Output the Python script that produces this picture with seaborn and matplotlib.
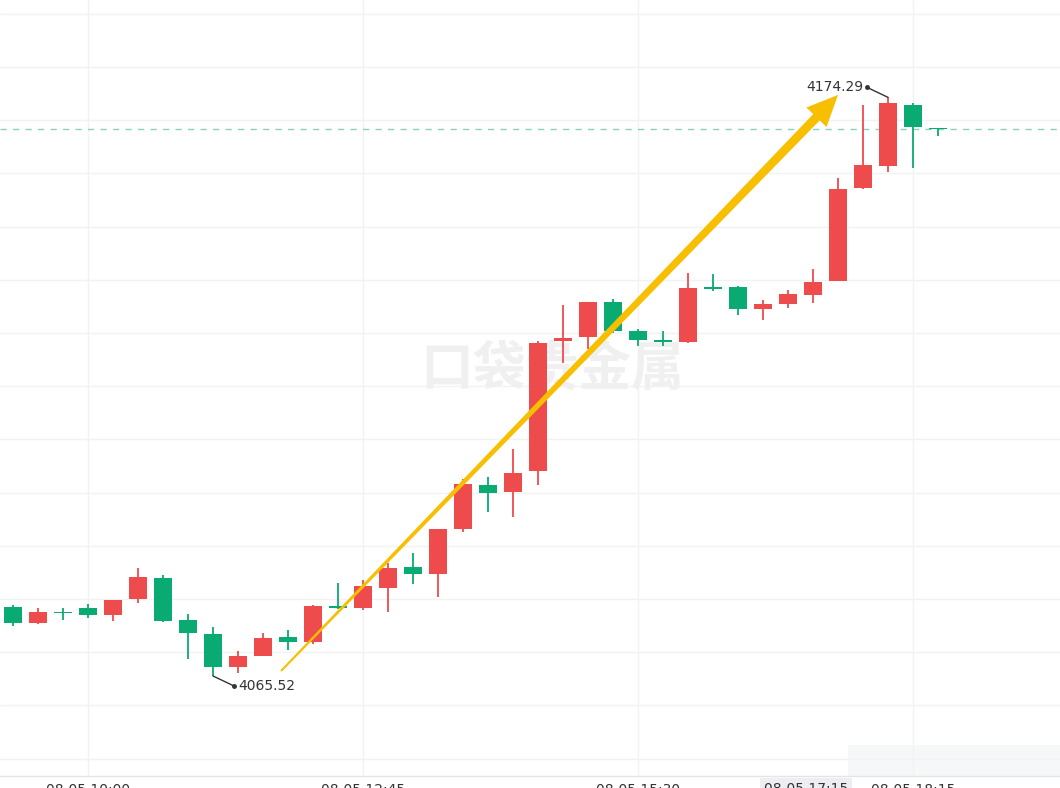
import numpy as np
import pandas as pd
import matplotlib.pyplot as plt
import seaborn as sns
from matplotlib.patches import Polygon, Rectangle
from matplotlib.transforms import blended_transform_factory, offset_copy

# 15-minute candles, 08-05
times = pd.date_range("2024-08-05 09:15", periods=38, freq="15min").strftime("%m-%d %H:%M").tolist()

opens = [4078.55, 4075.48, 4077.61, 4078.30, 4076.93, 4079.94, 4084.00, 4075.99, 4073.36, 4067.27,
         4069.28, 4072.85, 4071.91, 4078.68, 4078.36, 4082.01, 4085.95, 4084.64, 4093.10, 4101.42,
         4100.16, 4104.11, 4128.55, 4129.19, 4135.76, 4130.37, 4128.55, 4128.30, 4138.58, 4138.70,
         4134.45, 4135.50, 4137.19, 4139.83, 4157.25, 4161.44, 4172.85, 4168.53]
highs = [4078.87, 4078.25, 4078.30, 4079.00, 4079.85, 4085.88, 4084.51, 4077.17, 4074.79, 4070.22,
         4073.66, 4074.17, 4078.81, 4083.06, 4083.57, 4086.82, 4088.58, 4093.15, 4102.49, 4102.87,
         4108.13, 4128.55, 4135.26, 4135.85, 4136.33, 4130.75, 4130.37, 4141.33, 4141.03, 4138.80,
         4136.20, 4138.08, 4141.97, 4159.19, 4172.85, 4174.29, 4173.29, 4168.60]
lows = [4074.92, 4075.30, 4076.05, 4076.48, 4075.80, 4079.30, 4075.75, 4068.77, 4065.52, 4066.03,
        4069.20, 4070.41, 4071.54, 4078.20, 4077.93, 4077.61, 4082.81, 4080.31, 4092.64, 4096.40,
        4095.46, 4101.42, 4124.41, 4126.93, 4129.94, 4127.55, 4127.55, 4128.20, 4137.89, 4133.38,
        4132.44, 4134.75, 4135.58, 4139.70, 4157.15, 4160.20, 4161.07, 4167.03]
closes = [4075.54, 4077.49, 4077.36, 4077.04, 4079.81, 4084.07, 4075.80, 4073.55, 4067.27, 4069.28,
          4072.61, 4071.91, 4078.68, 4078.30, 4082.49, 4085.88, 4084.69, 4093.10, 4101.55, 4099.86,
          4103.62, 4128.17, 4129.11, 4135.76, 4130.43, 4128.62, 4128.36, 4138.51, 4138.32, 4134.56,
          4135.44, 4137.27, 4139.52, 4157.06, 4161.52, 4173.17, 4168.77, 4168.34]

RED = "#EE4B4C"
GREEN = "#0AAB72"
ARROW = "#F8BE00"

df = pd.DataFrame({"time": times, "open": opens, "high": highs, "low": lows, "close": closes})
df["x"] = np.arange(len(df))
df["color"] = np.where(df["close"] >= df["open"], RED, GREEN)

sns.set_theme(style="white")
plt.rcParams["font.family"] = ["DejaVu Sans", "Noto Sans CJK SC"]

fig = plt.figure(figsize=(10.6, 7.88), dpi=100)
ax = fig.add_axes([0, 12 / 788, 1, 776 / 788])
ax.set_xlim(-0.52, 41.88)
ax.set_ylim(4046.72, 4192.59)

# grid
ax.set_yticks(np.arange(4050, 4191, 10))
ax.set_yticklabels([])
ax.set_xticks([3, 14, 25, 36])
ax.set_xticklabels([df["time"][i] for i in [3, 14, 25, 36]])
ax.grid(True, color="#f2f2f2", lw=1)
ax.tick_params(axis="x", length=0, pad=5, labelsize=10, labelcolor="#333333")
ax.tick_params(axis="y", length=0)
for s in ["top", "left", "right"]:
    ax.spines[s].set_visible(False)
ax.spines["bottom"].set_color("#e4e4e4")
ax.spines["bottom"].set_linewidth(1)

# faint overlay at bottom right, under everything
ax.add_patch(Rectangle((848 / 1060, 33 / 776 * -0 + 0), 212 / 1060, 31 / 776, transform=ax.transAxes,
                       facecolor="#f6f7f9", edgecolor="none", zorder=0.5))

# watermark
ax.text(552 / 1060, 1 - 370 / 788, "口袋贵金属", ha="center", va="center", fontsize=38,
        fontweight="bold", color="#f0f0f0", family=["Noto Sans CJK SC"], zorder=1,
        transform=fig.transFigure)

# candles
ax.vlines(df["x"], df["low"], df["high"], colors=df["color"], lw=1.3, zorder=3)
body_low = np.minimum(df["open"], df["close"])
body_h = np.maximum((df["close"] - df["open"]).abs(), 0.25)
ax.bar(df["x"], body_h, bottom=body_low, width=0.74, color=df["color"], linewidth=0, zorder=3)

# last price line
ax.axhline(df["close"].iloc[-1], color="#8ad2ba", lw=1, ls=(0, (4.5, 4.5)), zorder=2)

# high / low labels
hi = int(df["high"].idxmax())
lo = int(df["low"].idxmin())
for idx, val, dx, dy, ha in [(hi, df["high"][hi], -21, 10, "right"), (lo, df["low"][lo], 21, -10, "left")]:
    ax.annotate("", xy=(idx, val), xytext=(dx, dy), textcoords="offset pixels",
                arrowprops=dict(arrowstyle="-", color="#333333", lw=1, shrinkA=0, shrinkB=0), zorder=6)
    ax.plot([idx], [val], "o", ms=2.5, color="#333333",
            transform=offset_copy(ax.transData, fig, x=dx, y=dy, units="dots"), zorder=6)
    tx = dx - 4 if ha == "right" else dx + 4
    ax.text(idx, val, f"{val:.2f}", ha=ha, va="center", fontsize=10, color="#333333",
            transform=offset_copy(ax.transData, fig, x=tx, y=dy, units="dots"), zorder=6)

# tapered trend arrow from near the low to near the high
p0 = ax.transData.transform((lo + 2.72, df["low"][lo] + 0.94))
p1 = ax.transData.transform((hi - 2.0, df["high"][hi] + 0.45))
u = (p1 - p0) / np.linalg.norm(p1 - p0)
n = np.array([-u[1], u[0]])
neck = p1 - u * 31
pts = np.array([p0 + n * 1.0, neck + n * 4.5, neck + n * 14, p1,
                neck - n * 14, neck - n * 4.5, p0 - n * 1.0])
ax.add_patch(Polygon(ax.transData.inverted().transform(pts), closed=True,
                     facecolor=ARROW, edgecolor="none", zorder=5))

# crosshair time label
trans = offset_copy(blended_transform_factory(ax.transData, ax.transAxes), fig, x=0, y=-6, units="dots")
ax.text(31.72, 0, df["time"][32], transform=trans, ha="center", va="top", fontsize=10,
        color="#333333", clip_on=False,
        bbox=dict(boxstyle="square,pad=0.3", fc="#eceef1", ec="none"))

fig.savefig("out.png", dpi=100)
